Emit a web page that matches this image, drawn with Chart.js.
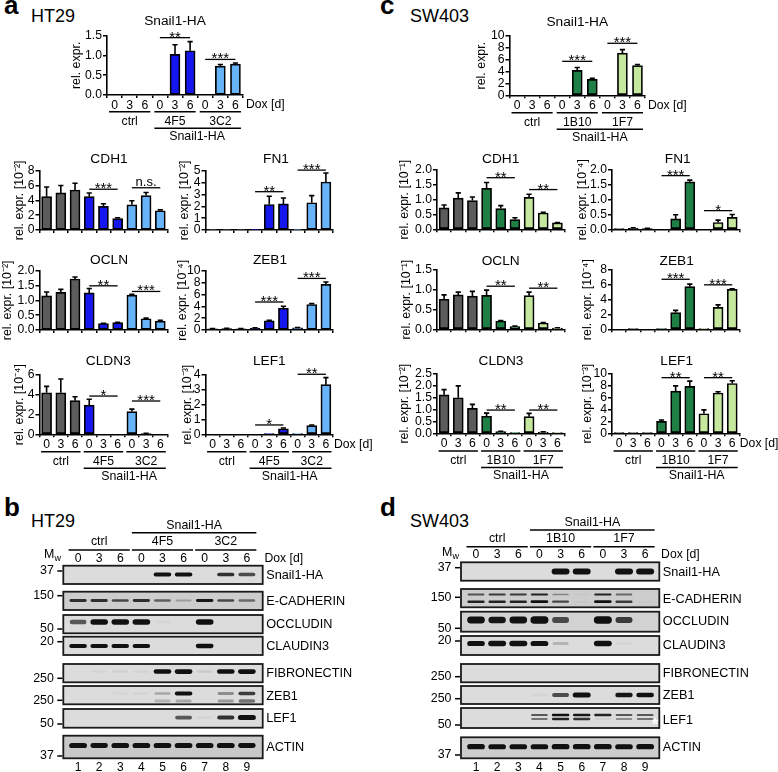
<!DOCTYPE html>
<html>
<head>
<meta charset="utf-8">
<script src="https://cdn.jsdelivr.net/npm/chart.js@4/dist/chart.umd.min.js"></script>
<style>
html, body { margin: 0; padding: 0; background: #fff; }
#page { position: relative; width: 778px; height: 772px; overflow: hidden; font-family: "Liberation Sans", Arial, sans-serif; color: #000; }
canvas { position: absolute; }
.letter { position: absolute; font-size: 26px; font-weight: bold; line-height: 1; color: #000; }
.cell { position: absolute; font-size: 18px; line-height: 1; }
</style>
</head>
<body>
<div id="page">
  <div class="letter" style="left:4px;top:-8px">a</div>
  <div class="letter" style="left:380px;top:-8px">c</div>
  <div class="letter" style="left:4px;top:494px">b</div>
  <div class="letter" style="left:380px;top:494px">d</div>
  <div class="cell" style="left:31px;top:7px">HT29</div>
  <div class="cell" style="left:410px;top:7px">SW403</div>
  <div class="cell" style="left:31px;top:512px">HT29</div>
  <div class="cell" style="left:410px;top:512px">SW403</div>
</div>
<script>
var dox = ['0', '3', '6', '0', '3', '6', '0', '3', '6'];
var lanes = [1, 2, 3, 4, 5, 6, 7, 8, 9];

// panel a, HT29
var aSnail = [0, 0, 0, 0, 1.03, 1.12, 0, 0.73, 0.78];
var aSnailErr = [0, 0, 0, 0, 0.24, 0.23, 0, 0.04, 0.03];
var aCdh1 = [4.5, 5.0, 5.4, 4.5, 3.2, 1.55, 3.4, 4.65, 2.6];
var aCdh1Err = [1.3, 1.0, 0.9, 0.5, 0.35, 0.1, 0.55, 0.4, 0.12];
var aFn1 = [0.02, 0.02, 0.02, 0.02, 2.15, 2.2, 0.02, 2.3, 4.05];
var aFn1Err = [0, 0, 0, 0, 0.7, 0.5, 0, 0.6, 0.75];
var aOcln = [1.15, 1.27, 1.72, 1.25, 0.22, 0.25, 1.18, 0.38, 0.3];
var aOclnErr = [0.13, 0.1, 0.07, 0.15, 0.01, 0.01, 0.02, 0.02, 0.03];
var aZeb1 = [0.2, 0.25, 0.2, 0.3, 1.55, 3.7, 0.35, 4.3, 7.7];
var aZeb1Err = [0.05, 0.05, 0.05, 0.05, 0.1, 0.3, 0.05, 0.15, 0.4];
var aCldn3 = [4.2, 4.2, 3.4, 2.95, 0, 0, 2.3, 0.07, 0];
var aCldn3Err = [0.65, 1.4, 0.4, 0.6, 0, 0, 0.25, 0.02, 0];
var aLef1 = [0, 0, 0, 0, 0.02, 0.37, 0.03, 0.58, 3.35];
var aLef1Err = [0, 0, 0, 0, 0, 0.05, 0, 0.05, 0.47];

// panel c, SW403
var cSnail = [0, 0, 0, 0, 4.2, 2.7, 0, 7.1, 5.0];
var cSnailErr = [0, 0, 0, 0, 0.5, 0.15, 0, 0.6, 0.2];
var cCdh1 = [0.72, 1.05, 0.97, 1.38, 0.7, 0.33, 1.08, 0.55, 0.22];
var cCdh1Err = [0.1, 0.18, 0.12, 0.2, 0.1, 0.06, 0.1, 0.02, 0.01];
var cFn1 = [0.01, 0.03, 0.02, 0, 0.35, 1.6, 0, 0.23, 0.4];
var cFn1Err = [0, 0.02, 0.01, 0, 0.14, 0.06, 0, 0.08, 0.1];
var cOcln = [0.76, 0.87, 0.84, 0.86, 0.21, 0.07, 0.85, 0.16, 0.03];
var cOclnErr = [0.11, 0.07, 0.12, 0.13, 0.01, 0.01, 0.09, 0.01, 0.01];
var cZeb1 = [0, 0.02, 0, 0.02, 2.25, 5.75, 0.02, 2.95, 5.4];
var cZeb1Err = [0, 0, 0, 0, 0.3, 0.35, 0, 0.35, 0.05];
var cCldn3 = [1.62, 1.5, 1.05, 0.72, 0.07, 0.02, 0.7, 0.05, 0.01];
var cCldn3Err = [0.22, 0.5, 0.17, 0.13, 0.01, 0, 0.14, 0.01, 0];
var cLef1 = [0.02, 0.02, 0.02, 2.0, 7.1, 7.9, 3.3, 6.8, 8.4];
var cLef1Err = [0, 0, 0, 0.25, 0.9, 0.9, 0.65, 0.2, 0.45];

// blot band strength per lane, panel b
var bSnail = [0, 0, 0, 0, 0.8, 0.8, 0, 0.65, 0.55];
var bEcad = [0.65, 0.65, 0.55, 0.65, 0.45, 0.2, 0.75, 0.55, 0.4];
var bOcc = [0.5, 0.8, 0.8, 0.85, 0.02, 0, 0.85, 0, 0];
var bCld = [0.85, 0.8, 0.8, 0.8, 0, 0, 0.9, 0, 0];
var bFib = [0.01, 0.02, 0.04, 0.03, 0.85, 0.9, 0.06, 0.85, 0.9];
var bZeb = [0, 0, 0.02, 0.03, 0.2, 0.8, 0, 0.3, 0.6];
var bZeb2 = [0, 0, 0, 0, 0.15, 0.2, 0, 0.25, 0.4];
var bLef = [0, 0, 0, 0, 0, 0.5, 0.03, 0.65, 1];
var bAct = [0.9, 0.8, 0.85, 0.85, 0.85, 0.85, 0.85, 0.9, 0.8];

// panel d
var dSnail = [0, 0, 0, 0, 0.95, 0.95, 0, 1, 1];
var dEcadUp = [0.5, 0.6, 0.6, 0.7, 0.3, 0.03, 0.7, 0.4, 0];
var dEcadLo = [0.7, 0.7, 0.7, 0.85, 0.55, 0.03, 0.8, 0.6, 0.02];
var dOcc = [0.85, 0.75, 0.85, 1, 0.55, 0, 1, 0.6, 0];
var dCld = [0.85, 0.95, 1, 0.9, 0.15, 0, 0.95, 0.02, 0];
var dZeb = [0, 0, 0, 0.03, 0.55, 1, 0, 0.75, 0.85];
var dLefUp = [0, 0, 0, 0.5, 0.8, 0.75, 0.7, 0.5, 0.5];
var dLefLo = [0, 0, 0, 0.4, 0.7, 0.65, 0.05, 0.3, 0.4];
var dAct = [0.9, 0.85, 0.85, 0.85, 0.9, 0.9, 0.9, 0.85, 0.9];

var FONT = '"Liberation Sans", Arial, sans-serif';
var INK = '#000';
var GREY = '#5c5c5c';
var blues = [GREY, GREY, GREY, '#1616ee', '#1616ee', '#1616ee', '#68b4fb', '#68b4fb', '#68b4fb'];
var greens = [GREY, GREY, GREY, '#1f8046', '#1f8046', '#1f8046', '#c6e89e', '#c6e89e', '#c6e89e'];
var page = document.getElementById('page');

function addCanvas(x, y, w, h) {
    var c = document.createElement('canvas');
    c.width = w;
    c.height = h;
    c.style.left = x + 'px';
    c.style.top = y + 'px';
    c.style.width = w + 'px';
    c.style.height = h + 'px';
    page.appendChild(c);
    return c;
}

function text(ctx, s, x, y, size, align, color) {
    ctx.font = size + 'px ' + FONT;
    ctx.textAlign = align || 'center';
    ctx.textBaseline = 'middle';
    ctx.fillStyle = color || INK;
    ctx.fillText(s, x, y);
}

function hline(ctx, x0, x1, y, w) {
    ctx.strokeStyle = INK;
    ctx.lineWidth = w || 1.3;
    ctx.beginPath();
    ctx.moveTo(x0, y);
    ctx.lineTo(x1, y);
    ctx.stroke();
}

// error caps, significance bars, titles and the group labels under the axis
var barExtras = {
    id: 'barExtras',
    afterDatasetsDraw: function(chart) {
        var o = chart.options.plugins.barExtras;
        var ctx = chart.ctx;
        var xs = chart.scales.x, ys = chart.scales.y;
        var meta = chart.getDatasetMeta(0);
        var vals = chart.data.datasets[0].data;
        ctx.save();
        ctx.strokeStyle = INK;
        ctx.lineWidth = 1.6;
        o.err.forEach(function(e, i) {
            if (e <= 0) return;
            var x = meta.data[i].x;
            var y0 = ys.getPixelForValue(vals[i]);
            var y1 = ys.getPixelForValue(vals[i] + e);
            ctx.beginPath();
            ctx.moveTo(x, y0);
            ctx.lineTo(x, y1);
            ctx.moveTo(x - 2.6, y1);
            ctx.lineTo(x + 2.6, y1);
            ctx.stroke();
        });
        o.sig.forEach(function(s) {
            var y = ys.getPixelForValue(s[2]);
            hline(ctx, xs.getPixelForValue(s[0]), xs.getPixelForValue(s[1]), y, 1.3);
            var ns = s[3] === 'n.s.';
            ctx.font = (ns ? 13 : 15) + 'px ' + FONT;
            ctx.textAlign = 'center';
            ctx.textBaseline = 'alphabetic';
            ctx.fillStyle = INK;
            var mid = (xs.getPixelForValue(s[0]) + xs.getPixelForValue(s[1])) / 2;
            ctx.fillText(s[3], mid, y + (ns ? -2 : 4));
        });
        text(ctx, o.title, o.titleX - o.left, o.titleY - o.top, 13.7);
        if (o.groups) {
            var g = o.groups;
            var base = chart.chartArea.bottom;
            g.names.forEach(function(n, k) {
                var a = xs.getPixelForValue(k * 3), b = xs.getPixelForValue(k * 3 + 2);
                hline(ctx, a - 5.5, b + 5.5, base + g.line1, 1.4);
                text(ctx, n, xs.getPixelForValue(k * 3 + 1), base + g.line1 + 9.5, 12.2);
            });
            hline(ctx, xs.getPixelForValue(3) - 5.5, xs.getPixelForValue(8) + 5.5, base + g.line1 + 16.5, 1.4);
            text(ctx, 'Snail1-HA', xs.getPixelForValue(g.mid), base + g.line1 + 25, 12.4);
            if (g.dox) text(ctx, 'Dox [d]', chart.chartArea.right + g.dox, base + 10, 12.2, 'left');
        }
        ctx.restore();
    }
};

function barChart(p) {
    var left = Math.max(0, Math.round(p.yTitleX - 6.2));
    var top = Math.round(p.titleY - 12);
    var right = p.right + 52;
    var bottom = p.bottom + 58;
    var w = Math.round(right - left), h = Math.round(bottom - top);
    var c = addCanvas(left, top, w, h);
    new Chart(c, {
        type: 'bar',
        data: {
            labels: dox,
            datasets: [{ data: p.values, backgroundColor: p.colors, borderColor: INK, borderWidth: 1.7, borderSkipped: false, barThickness: 10 }]
        },
        plugins: [barExtras],
        options: {
            responsive: false,
            animation: false,
            devicePixelRatio: 1,
            layout: { padding: { top: p.top - top, right: left + w - p.right, left: 0, bottom: 0 } },
            plugins: {
                legend: { display: false },
                tooltip: { enabled: false },
                barExtras: {
                    err: p.err, sig: p.sig, title: p.title, titleX: p.titleX, titleY: p.titleY,
                    left: left, top: top, groups: p.groups
                }
            },
            scales: {
                x: {
                    offset: true,
                    grid: { drawOnChartArea: false, tickLength: 3, tickColor: INK, lineWidth: 1.5 },
                    border: { color: INK, width: 1.6 },
                    ticks: {
                        display: !!p.groups, autoSkip: false, maxRotation: 0, minRotation: 0, padding: 0,
                        color: INK, font: { family: FONT, size: 12.2 }
                    },
                    afterFit: function(s) { s.height = top + h - p.bottom; }
                },
                y: {
                    min: 0,
                    max: p.max,
                    grid: { drawOnChartArea: false, tickLength: 4, tickColor: INK, lineWidth: 1.5 },
                    border: { color: INK, width: 1.6 },
                    ticks: {
                        stepSize: p.step, autoSkip: false, padding: 1, color: INK, font: { family: FONT, size: 12.2 },
                        callback: function(v) { return v.toFixed(p.dec); }
                    },
                    title: {
                        display: true, text: p.yTitle, color: INK, padding: 0,
                        font: { family: FONT, size: 12.4, lineHeight: 1 }
                    },
                    afterFit: function(s) { s.width = p.left - left; }
                }
            }
        }
    });
}

var EXP = { m1: '10\u207B\u00B9', m2: '10\u207B\u00B2', m3: '10\u207B\u00B3', m4: '10\u207B\u2074' };
function relExpr(e) { return 'rel. expr. [' + EXP[e] + ']'; }

// ---- panel a
barChart({ title: 'Snail1-HA', titleX: 175, titleY: 21, yTitle: 'rel. expr.', yTitleX: 76, left: 107, right: 243, top: 35.7, bottom: 95,
    max: 1.5, step: 0.5, dec: 1, values: aSnail, err: aSnailErr, colors: blues,
    sig: [[3, 5, 1.45, '**'], [6, 8, 0.9, '***']], groups: { names: ['ctrl', '4F5', '3C2'], line1: 16.7, mid: 5.46, dox: 3 } });
barChart({ title: 'CDH1', titleX: 109, titleY: 159.5, yTitle: relExpr('m2'), yTitleX: 19, left: 39.5, right: 167.4, top: 170.7, bottom: 230,
    max: 8, step: 2, dec: 0, values: aCdh1, err: aCdh1Err, colors: blues,
    sig: [[3, 5, 5.5, '***'], [6, 8, 5.7, 'n.s.']] });
barChart({ title: 'FN1', titleX: 276, titleY: 159.5, yTitle: relExpr('m2'), yTitleX: 184, left: 205.5, right: 333, top: 170.7, bottom: 230,
    max: 5, step: 1, dec: 0, values: aFn1, err: aFn1Err, colors: blues,
    sig: [[3, 5, 3.23, '**'], [6, 8, 5.05, '***']] });
barChart({ title: 'OCLN', titleX: 109, titleY: 260.7, yTitle: relExpr('m2'), yTitleX: 7.3, left: 39.5, right: 167.4, top: 270.7, bottom: 330,
    max: 2, step: 0.5, dec: 1, values: aOcln, err: aOclnErr, colors: blues,
    sig: [[3, 5, 1.49, '**'], [6, 8, 1.3, '***']] });
barChart({ title: 'ZEB1', titleX: 270, titleY: 260.7, yTitle: relExpr('m4'), yTitleX: 181.7, left: 205.5, right: 333, top: 270.7, bottom: 330,
    max: 10, step: 2, dec: 0, values: aZeb1, err: aZeb1Err, colors: blues,
    sig: [[3, 5, 4.72, '***'], [6, 8, 8.7, '***']] });
barChart({ title: 'CLDN3', titleX: 108.3, titleY: 361.7, yTitle: relExpr('m4'), yTitleX: 19, left: 39.5, right: 167.4, top: 375, bottom: 434.3,
    max: 6, step: 2, dec: 0, values: aCldn3, err: aCldn3Err, colors: blues,
    sig: [[3, 5, 3.87, '*'], [6, 8, 3.37, '***']], groups: { names: ['ctrl', '4F5', '3C2'], line1: 17.4, mid: 5.8 } });
barChart({ title: 'LEF1', titleX: 269.3, titleY: 361.7, yTitle: relExpr('m3'), yTitleX: 186.7, left: 205.5, right: 333, top: 375, bottom: 434.3,
    max: 4, step: 1, dec: 0, values: aLef1, err: aLef1Err, colors: blues,
    sig: [[3, 5, 0.63, '*'], [6, 8, 4.05, '**']], groups: { names: ['ctrl', '4F5', '3C2'], line1: 17.4, mid: 5.44, dox: 1 } });

// ---- panel c
barChart({ title: 'Snail1-HA', titleX: 577.3, titleY: 22.7, yTitle: 'rel. expr.', yTitleX: 481, left: 509.5, right: 645, top: 36, bottom: 95.3,
    max: 10, step: 2, dec: 0, values: cSnail, err: cSnailErr, colors: greens,
    sig: [[3, 5, 5.73, '***'], [6, 8, 8.77, '***']], groups: { names: ['ctrl', '1B10', '1F7'], line1: 17.4, mid: 5.5, dox: 3 } });
barChart({ title: 'CDH1', titleX: 500.7, titleY: 159.5, yTitle: relExpr('m1'), yTitleX: 404, left: 437, right: 564.5, top: 170, bottom: 229.3,
    max: 2, step: 0.5, dec: 1, values: cCdh1, err: cCdh1Err, colors: greens,
    sig: [[3, 5, 1.74, '**'], [6, 8, 1.34, '**']] });
barChart({ title: 'FN1', titleX: 677.7, titleY: 159.5, yTitle: relExpr('m4'), yTitleX: 581.7, left: 612, right: 739.3, top: 170, bottom: 229.3,
    max: 2, step: 0.5, dec: 1, values: cFn1, err: cFn1Err, colors: greens,
    sig: [[3, 5, 1.81, '***'], [6, 8, 0.63, '*']] });
barChart({ title: 'OCLN', titleX: 500.7, titleY: 261, yTitle: relExpr('m1'), yTitleX: 405.7, left: 437, right: 564.5, top: 270, bottom: 329.3,
    max: 1.5, step: 0.5, dec: 1, values: cOcln, err: cOclnErr, colors: greens,
    sig: [[3, 5, 1.09, '**'], [6, 8, 1.04, '**']] });
barChart({ title: 'ZEB1', titleX: 676.7, titleY: 261, yTitle: relExpr('m4'), yTitleX: 586.7, left: 612, right: 739.3, top: 270, bottom: 329.3,
    max: 8, step: 2, dec: 0, values: cZeb1, err: cZeb1Err, colors: greens,
    sig: [[3, 5, 6.75, '***'], [6, 8, 6.0, '***']] });
barChart({ title: 'CLDN3', titleX: 501, titleY: 361.7, yTitle: relExpr('m2'), yTitleX: 404, left: 437, right: 564.5, top: 374, bottom: 433.3,
    max: 2.5, step: 0.5, dec: 1, values: cCldn3, err: cCldn3Err, colors: greens,
    sig: [[3, 5, 0.98, '**'], [6, 8, 0.98, '**']], groups: { names: ['ctrl', '1B10', '1F7'], line1: 17.7, mid: 5.43 } });
barChart({ title: 'LEF1', titleX: 676.7, titleY: 361.7, yTitle: relExpr('m3'), yTitleX: 586.7, left: 612, right: 739.3, top: 374, bottom: 433.3,
    max: 10, step: 2, dec: 0, values: cLef1, err: cLef1Err, colors: greens,
    sig: [[3, 5, 9.38, '**'], [6, 8, 9.38, '**']], groups: { names: ['ctrl', '1B10', '1F7'], line1: 17.7, mid: 5.49, dox: 0.5 } });

// ---- western blots: one chart for each stack, lanes on x, gel rows on y
var blotDraw = {
    id: 'blotDraw',
    afterDatasetsDraw: function(chart) {
        var o = chart.options.plugins.blotDraw;
        var ctx = chart.ctx;
        var xs = chart.scales.x, ys = chart.scales.y;
        var a = chart.chartArea;
        ctx.save();
        o.rows.forEach(function(r) {
            var y0 = ys.getPixelForValue(r.top), y1 = ys.getPixelForValue(r.bot);
            ctx.fillStyle = r.bg || '#dcdcdc';
            ctx.fillRect(a.left, y0, a.right - a.left, y1 - y0);
            ctx.save();
            ctx.beginPath();
            ctx.rect(a.left, y0, a.right - a.left, y1 - y0);
            ctx.clip();
            chart.data.datasets.forEach(function(ds, k) {
                if (ds.row !== r.name) return;
                var meta = chart.getDatasetMeta(k);
                ds.data.forEach(function(pt, i) {
                    if (pt.v <= 0) return;
                    var el = meta.data[i];
                    var bh = ds.bandH * (0.5 + 0.5 * pt.v);
                    var half = 7.8 + 1.2 * pt.v;
                    ctx.filter = 'blur(0.7px)';
                    ctx.globalAlpha = Math.min(1, pt.v * 1.3);
                    ctx.fillStyle = '#111';
                    ctx.beginPath();
                    ctx.roundRect(el.x - half, el.y - bh / 2, half * 2, bh, bh / 2);
                    ctx.fill();
                });
            });
            ctx.restore();
            ctx.filter = 'none';
            ctx.globalAlpha = 1;
            ctx.strokeStyle = '#1a1a1a';
            ctx.lineWidth = 1.8;
            ctx.strokeRect(a.left, y0, a.right - a.left, y1 - y0);
            text(ctx, r.name, a.right + 3.5, ys.getPixelForValue(r.labelY), 12.7, 'left');
            var my = ys.getPixelForValue(r.mwY);
            text(ctx, r.mw, a.left - 9.5, my, 12.4, 'right');
            hline(ctx, a.left - 6, a.left - 1, my, 1.5);
        });
        // header and lane numbers
        o.head.forEach(function(g) {
            var gx0 = xs.getPixelForValue(g.from) - 9.5, gx1 = xs.getPixelForValue(g.to) + 9.5;
            hline(ctx, gx0, gx1, ys.getPixelForValue(g.line), 1.4);
            text(ctx, g.name, (gx0 + gx1) / 2, ys.getPixelForValue(g.textY), 12.4);
        });
        o.lanes.forEach(function(l, i) {
            text(ctx, dox[i], xs.getPixelForValue(l), ys.getPixelForValue(o.doseY), 12.2);
            text(ctx, String(l), xs.getPixelForValue(l), ys.getPixelForValue(o.numY), 12);
        });
        text(ctx, 'Dox [d]', a.right + 1.8, ys.getPixelForValue(o.doseY), 12.2, 'left');
        var mx = xs.getPixelForValue(o.lanes[0]) - 34;
        text(ctx, 'M', mx, ys.getPixelForValue(o.mwHead), 12.4, 'left');
        text(ctx, 'w', mx + 10.5, ys.getPixelForValue(o.mwHead) + 3.5, 9, 'left');
        if (o.star) text(ctx, '*', xs.getPixelForValue(o.star[0]) + 10, ys.getPixelForValue(o.star[1]), 'bold 16', 'center', '#fff');
        ctx.restore();
    }
};

function blotChart(p) {
    var sets = [];
    p.rows.forEach(function(r) {
        r.bands.forEach(function(b) {
            sets.push({
                row: r.name, bandH: b.h, pointRadius: 0, showLine: false,
                data: b.values.map(function(v, i) { return { x: lanes[i], y: b.y, v: v }; })
            });
        });
    });
    var c = addCanvas(p.x, p.y, p.w, p.h);
    new Chart(c, {
        type: 'scatter',
        data: { datasets: sets },
        plugins: [blotDraw],
        options: {
            responsive: false,
            animation: false,
            devicePixelRatio: 1,
            layout: { padding: { left: p.left - p.x, right: p.x + p.w - p.right, top: 0, bottom: 0 } },
            plugins: {
                legend: { display: false },
                tooltip: { enabled: false },
                blotDraw: { rows: p.rows, head: p.head, lanes: lanes, doseY: p.doseY, numY: p.numY, mwHead: p.mwHead, star: p.star }
            },
            scales: {
                x: { type: 'linear', display: false, min: p.laneMin, max: p.laneMax },
                y: { type: 'linear', display: false, min: p.y, max: p.y + p.h, reverse: true }
            }
        }
    });
}

blotChart({
    x: 0, y: 518, w: 390, h: 254, left: 63.3, right: 262.7, laneMin: 0.3, laneMax: 9.75,
    doseY: 558.3, numY: 767.7, mwHead: 555,
    head: [
        { name: 'Snail1-HA', from: 4, to: 9, line: 532.7, textY: 526 },
        { name: 'ctrl', from: 1, to: 3, line: 550, textY: 541.7 },
        { name: '4F5', from: 4, to: 6, line: 550, textY: 541.7 },
        { name: '3C2', from: 7, to: 9, line: 550, textY: 541.7 }
    ],
    rows: [
        { name: 'Snail1-HA', top: 565.7, bot: 584, labelY: 575, mw: '37', mwY: 571, bands: [{ y: 574.5, h: 4.5, values: bSnail }] },
        { name: 'E-CADHERIN', top: 591.7, bot: 610, labelY: 601, mw: '150', mwY: 595.7, bg: '#cdcdcd', bands: [{ y: 600.5, h: 3.4, values: bEcad }] },
        { name: 'OCCLUDIN', top: 615, bot: 633.3, labelY: 624, mw: '50', mwY: 629, bands: [{ y: 622, h: 6, values: bOcc }] },
        { name: 'CLAUDIN3', top: 636.7, bot: 655, labelY: 646, mw: '20', mwY: 641.7, bands: [{ y: 646, h: 4.5, values: bCld }] },
        { name: 'FIBRONECTIN', top: 664, bot: 682.3, labelY: 673.3, mw: '250', mwY: 678.3, bands: [{ y: 671.5, h: 5, values: bFib }] },
        { name: 'ZEB1', top: 686, bot: 704.3, labelY: 696, mw: '250', mwY: 700.3, bands: [{ y: 693.5, h: 4.5, values: bZeb }, { y: 701, h: 5, values: bZeb2 }] },
        { name: 'LEF1', top: 709, bot: 727.7, labelY: 718, mw: '50', mwY: 724, bands: [{ y: 717.5, h: 5, values: bLef }] },
        { name: 'ACTIN', top: 735.7, bot: 758.3, labelY: 747.7, mw: '37', mwY: 756, bg: '#c9c9c9', bands: [{ y: 745.5, h: 5.5, values: bAct }] }
    ]
});

blotChart({
    x: 390, y: 515, w: 388, h: 257, left: 461, right: 659.3, laneMin: 0.29, laneMax: 9.67,
    doseY: 555, numY: 767.7, mwHead: 552.7, star: [9, 726],
    head: [
        { name: 'Snail1-HA', from: 4, to: 9, line: 530, textY: 522.7 },
        { name: 'ctrl', from: 1, to: 3, line: 546.7, textY: 538.3 },
        { name: '1B10', from: 4, to: 6, line: 546.7, textY: 538.3 },
        { name: '1F7', from: 7, to: 9, line: 546.7, textY: 538.3 }
    ],
    rows: [
        { name: 'Snail1-HA', top: 562.3, bot: 580.7, labelY: 572.3, mw: '37', mwY: 567.7, bands: [{ y: 571.5, h: 6, values: dSnail }] },
        { name: 'E-CADHERIN', top: 589, bot: 607.3, labelY: 599, mw: '150', mwY: 597.3, bg: '#cdcdcd', bands: [{ y: 594.5, h: 2.6, values: dEcadUp }, { y: 601.7, h: 3, values: dEcadLo }] },
        { name: 'OCCLUDIN', top: 611.7, bot: 631.7, labelY: 621, mw: '50', mwY: 628.3, bg: '#d2d2d2', bands: [{ y: 620, h: 7.5, values: dOcc }] },
        { name: 'CLAUDIN3', top: 636, bot: 655, labelY: 645.7, mw: '20', mwY: 641, bands: [{ y: 643.5, h: 5.5, values: dCld }] },
        { name: 'FIBRONECTIN', top: 664, bot: 682.3, labelY: 673.3, mw: '250', mwY: 676.7, bands: [] },
        { name: 'ZEB1', top: 686, bot: 704, labelY: 695.7, mw: '250', mwY: 698.7, bands: [{ y: 695, h: 5, values: dZeb }] },
        { name: 'LEF1', top: 708, bot: 728, labelY: 720.7, mw: '50', mwY: 725, bands: [{ y: 715, h: 2.8, values: dLefUp }, { y: 719, h: 2.8, values: dLefLo }] },
        { name: 'ACTIN', top: 737.3, bot: 758.3, labelY: 747.7, mw: '37', mwY: 755, bg: '#cdcdcd', bands: [{ y: 746.7, h: 5.5, values: dAct }] }
    ]
});
</script>
</body>
</html>
